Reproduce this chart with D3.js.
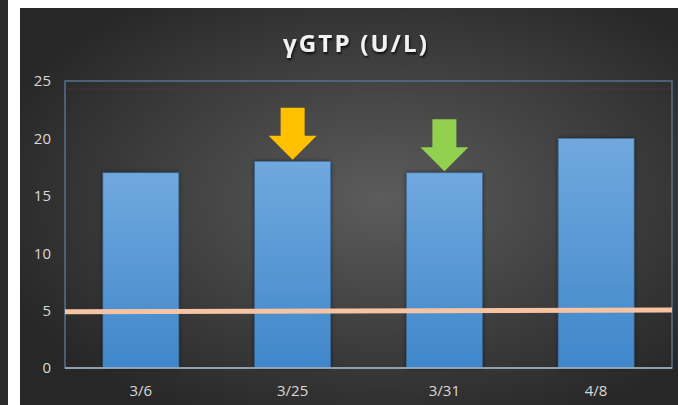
<!DOCTYPE html>
<html><head><meta charset="utf-8">
<script src="https://cdn.jsdelivr.net/npm/d3@7/dist/d3.min.js"></script>
<style>body{margin:0;background:#fff;}svg{display:block;}</style>
</head><body>
<script>
const categories = ["3/6", "3/25", "3/31", "4/8"];
const values = [17, 18, 17, 20];
const yTicks = [0, 5, 10, 15, 20, 25];
const refLine = [4.9, 5.05]; // start, end value of the reference line
const arrowCats = ["3/25", "3/31"];
const arrowColors = ["#ffc000", "#92d050"];
const title = "γGTP (U/L)";

const W = 678, H = 405;
const svg = d3.select("body").append("svg").attr("width", W).attr("height", H);
const defs = svg.append("defs");

const rg = defs.append("radialGradient").attr("id", "bg").attr("cx", "55%").attr("cy", "48%").attr("r", "62%");
rg.append("stop").attr("offset", "0%").attr("stop-color", "#5c5c5c");
rg.append("stop").attr("offset", "100%").attr("stop-color", "#272727");

const bg = defs.append("linearGradient").attr("id", "bar").attr("x1", 0).attr("y1", 0).attr("x2", 0).attr("y2", 1);
bg.append("stop").attr("offset", "0%").attr("stop-color", "#70a8de");
bg.append("stop").attr("offset", "100%").attr("stop-color", "#4087ca");

const sh = defs.append("filter").attr("id", "ts").attr("x", "-10%").attr("y", "-20%").attr("width", "130%").attr("height", "150%");
sh.append("feDropShadow").attr("dx", 1).attr("dy", 2).attr("stdDeviation", 1.2).attr("flood-color", "#000").attr("flood-opacity", 0.8);

const bs = defs.append("filter").attr("id", "bs").attr("x", "-10%").attr("y", "-10%").attr("width", "120%").attr("height", "120%");
bs.append("feDropShadow").attr("dx", 0).attr("dy", 0).attr("stdDeviation", 2).attr("flood-color", "#000").attr("flood-opacity", 0.5);

// frame
svg.append("rect").attr("x", 0).attr("y", 0).attr("width", 8).attr("height", H).attr("fill", "#2b2b2b");
svg.append("rect").attr("x", 20).attr("y", 8).attr("width", W - 20).attr("height", H - 8).attr("fill", "url(#bg)");

const m = {l: 65, r: 672, t: 81, b: 368};
const x = d3.scaleBand().domain(categories).range([m.l, m.r]).paddingInner(0.5).paddingOuter(0.25);
const y = d3.scaleLinear().domain([0, 25]).range([m.b, m.t]);

// title
svg.append("text").attr("x", 356).attr("y", 52).attr("text-anchor", "middle")
  .attr("fill", "#f2f2f2").attr("font-family", "Open Sans, sans-serif").attr("font-weight", "bold")
  .attr("font-size", 24).attr("letter-spacing", "2.2px").attr("filter", "url(#ts)").text(title);

// plot border
svg.append("rect").attr("x", m.l).attr("y", m.t).attr("width", m.r - m.l).attr("height", m.b - m.t)
  .attr("fill", "none").attr("stroke", "#56708f").attr("stroke-width", 1.5);
svg.append("line").attr("x1", m.l + 2).attr("x2", m.r - 2).attr("y1", m.t + 8).attr("y2", m.t + 8)
  .attr("stroke", "#5a3d35").attr("stroke-width", 1).attr("opacity", 0.5);

// bars
svg.selectAll(".bar").data(categories).join("rect").attr("class", "bar")
  .attr("x", d => x(d)).attr("width", x.bandwidth())
  .attr("y", (d, i) => y(values[i])).attr("height", (d, i) => y(0) - y(values[i]))
  .attr("fill", "url(#bar)").attr("stroke", "#3a6c9e").attr("stroke-width", 0.6)
  .attr("filter", "url(#bs)");

// x axis line
svg.append("line").attr("x1", m.l).attr("x2", m.r).attr("y1", m.b).attr("y2", m.b)
  .attr("stroke", "#a9b4c2").attr("stroke-width", 1.5);

// reference line
svg.append("line").attr("x1", m.l).attr("x2", m.r).attr("y1", y(refLine[0])).attr("y2", y(refLine[1]))
  .attr("stroke", "#f6c3a3").attr("stroke-width", 5);

// y labels
const yAxis = svg.append("g").attr("transform", `translate(${m.l},0)`)
  .call(d3.axisLeft(y).tickValues(yTicks).tickSize(0).tickPadding(14));
yAxis.select(".domain").remove();
yAxis.selectAll("text").attr("fill", "#d9d9d9").attr("font-family", "Open Sans, sans-serif").attr("font-size", 15);

// x labels
const xAxis = svg.append("g").attr("transform", `translate(0,${m.b})`)
  .call(d3.axisBottom(x).tickSize(0).tickPadding(17));
xAxis.select(".domain").remove();
xAxis.selectAll("text").attr("fill", "#d9d9d9").attr("font-family", "Open Sans, sans-serif").attr("font-size", 15);

// arrows
arrowCats.forEach((c, i) => {
  const v = values[categories.indexOf(c)];
  const cx = x(c) + x.bandwidth() / 2;
  const tip = y(v) - 1.5;
  const hw = 24, sw = 12, hh = 24, len = 52;
  const pts = [[cx - sw, tip - len], [cx + sw, tip - len], [cx + sw, tip - hh], [cx + hw, tip - hh],
               [cx, tip], [cx - hw, tip - hh], [cx - sw, tip - hh]];
  svg.append("polygon").attr("points", pts.map(p => p.join(",")).join(" ")).attr("fill", arrowColors[i]);
});
</script>
</body></html>
